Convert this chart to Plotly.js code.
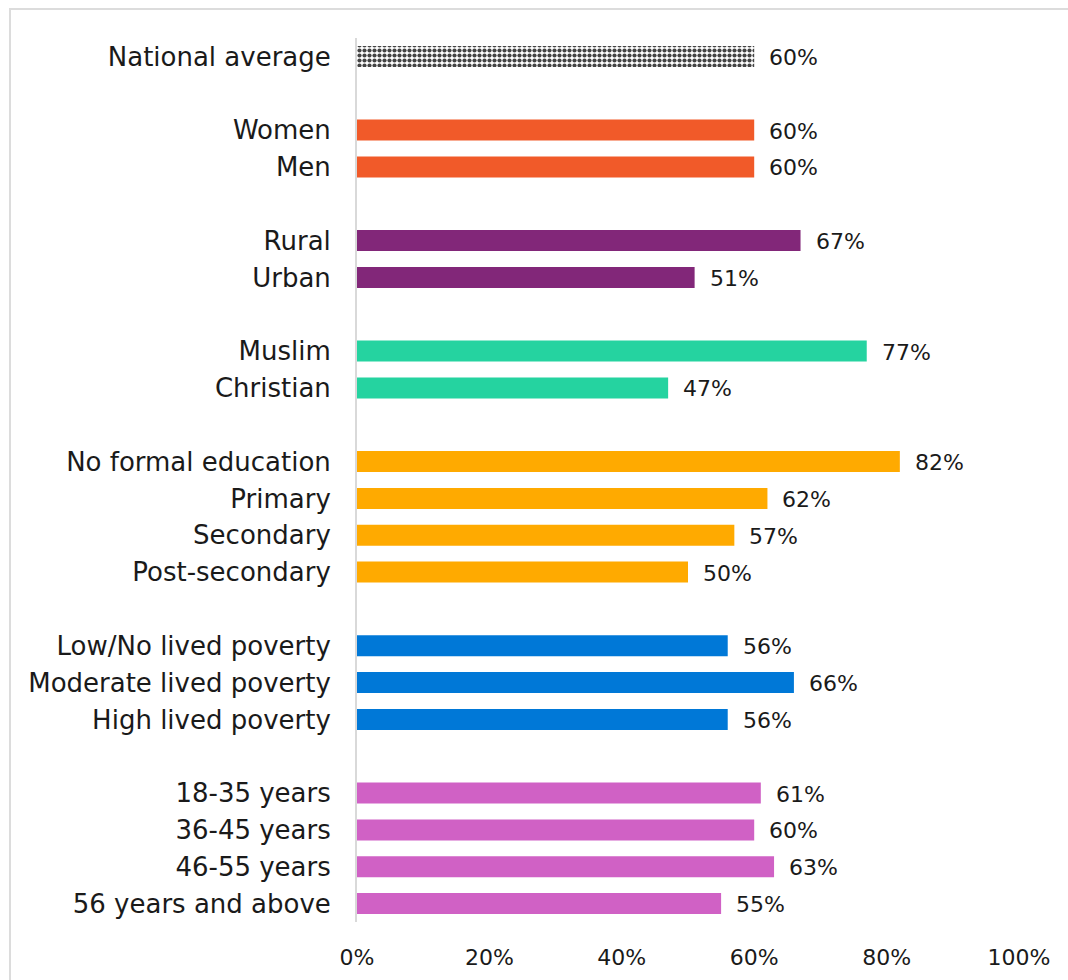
<!DOCTYPE html>
<html>
<head>
<meta charset="utf-8">
<script src="https://cdn.plot.ly/plotly-3.0.1.min.js"></script>
<style>
html, body { margin:0; padding:0; background:#fff; overflow:hidden; }
#wrap { position:relative; width:1068px; height:980px; }
#frame { position:absolute; left:9px; top:8px; width:1100px; height:1000px; border:2px solid #dcdcdc; pointer-events:none; }
#chart { position:absolute; left:0; top:0; width:1068px; height:980px; }
</style>
</head>
<body>
<div id="wrap"><div id="chart"></div><div id="frame"></div></div>
<script>
const categories = [
  "National average",
  "Women", "Men",
  "Rural", "Urban",
  "Muslim", "Christian",
  "No formal education", "Primary", "Secondary", "Post-secondary",
  "Low/No lived poverty", "Moderate lived poverty", "High lived poverty",
  "18-35 years", "36-45 years", "46-55 years", "56 years and above"
];
const values = [60, 60, 60, 67, 51, 77, 47, 82, 62, 57, 50, 56, 66, 56, 61, 60, 63, 55];
const groupIndex = [0, 1, 1, 2, 2, 3, 3, 4, 4, 4, 4, 5, 5, 5, 6, 6, 6, 6];
const groupColors = ["#595959", "#F15A29", "#822779", "#25D3A0", "#FFAA00", "#0078D7", "#D061C5"];
const xTickVals = [0, 20, 40, 60, 80, 100];
const xTickText = ["0%", "20%", "40%", "60%", "80%", "100%"];

// slot position: one blank slot between groups
const pos = categories.map((c, i) => i + groupIndex[i]);
const labels = values.map(v => v + "%");

const natIdx = [0];
const restIdx = categories.map((c, i) => i).filter(i => groupIndex[i] !== 0);

const FONT = "DejaVu Sans, sans-serif";
const TXT = "#1a1a1a";

const traces = [
  {
    type: "bar", orientation: "h",
    x: natIdx.map(i => values[i]), y: natIdx.map(i => pos[i]),
    width: 0.57,
    marker: { color: "#ffffff", pattern: { shape: ".", fgcolor: "#444444", bgcolor: "#ffffff", size: 5, solidity: 0.55 }, line: { width: 0 } },
    hoverinfo: "skip"
  },
  {
    type: "bar", orientation: "h",
    x: restIdx.map(i => values[i]), y: restIdx.map(i => pos[i]),
    width: 0.57,
    marker: { color: restIdx.map(i => groupColors[groupIndex[i]]), line: { width: 0 } },
    hoverinfo: "skip"
  }
];

const annotations = categories.map((c, i) => ({
  x: values[i], y: pos[i], xref: "x", yref: "y",
  text: labels[i], showarrow: false, xanchor: "left", yanchor: "middle",
  xshift: 13, yshift: -1,
  font: { family: FONT, size: 22, color: TXT }
}));

const layout = {
  width: 1068, height: 980,
  margin: { l: 357, r: 49, t: 38, b: 58 },
  paper_bgcolor: "#ffffff", plot_bgcolor: "#ffffff",
  showlegend: false,
  barmode: "overlay",
  xaxis: {
    range: [0, 100], tickvals: xTickVals, ticktext: xTickText,
    showgrid: false, zeroline: false, showline: false, ticks: "",
    ticklabelstandoff: 20,
    tickfont: { family: FONT, size: 22, color: TXT }
  },
  yaxis: {
    range: [23.5, -0.5], tickvals: pos, ticktext: categories,
    showgrid: false, zeroline: false, showline: true, linecolor: "#d9d9d9", linewidth: 2,
    ticks: "", ticklabelstandoff: 19,
    tickfont: { family: FONT, size: 26, color: TXT }
  },
  annotations: annotations
};

Plotly.newPlot("chart", traces, layout, { displayModeBar: false, staticPlot: true });
</script>
</body>
</html>
